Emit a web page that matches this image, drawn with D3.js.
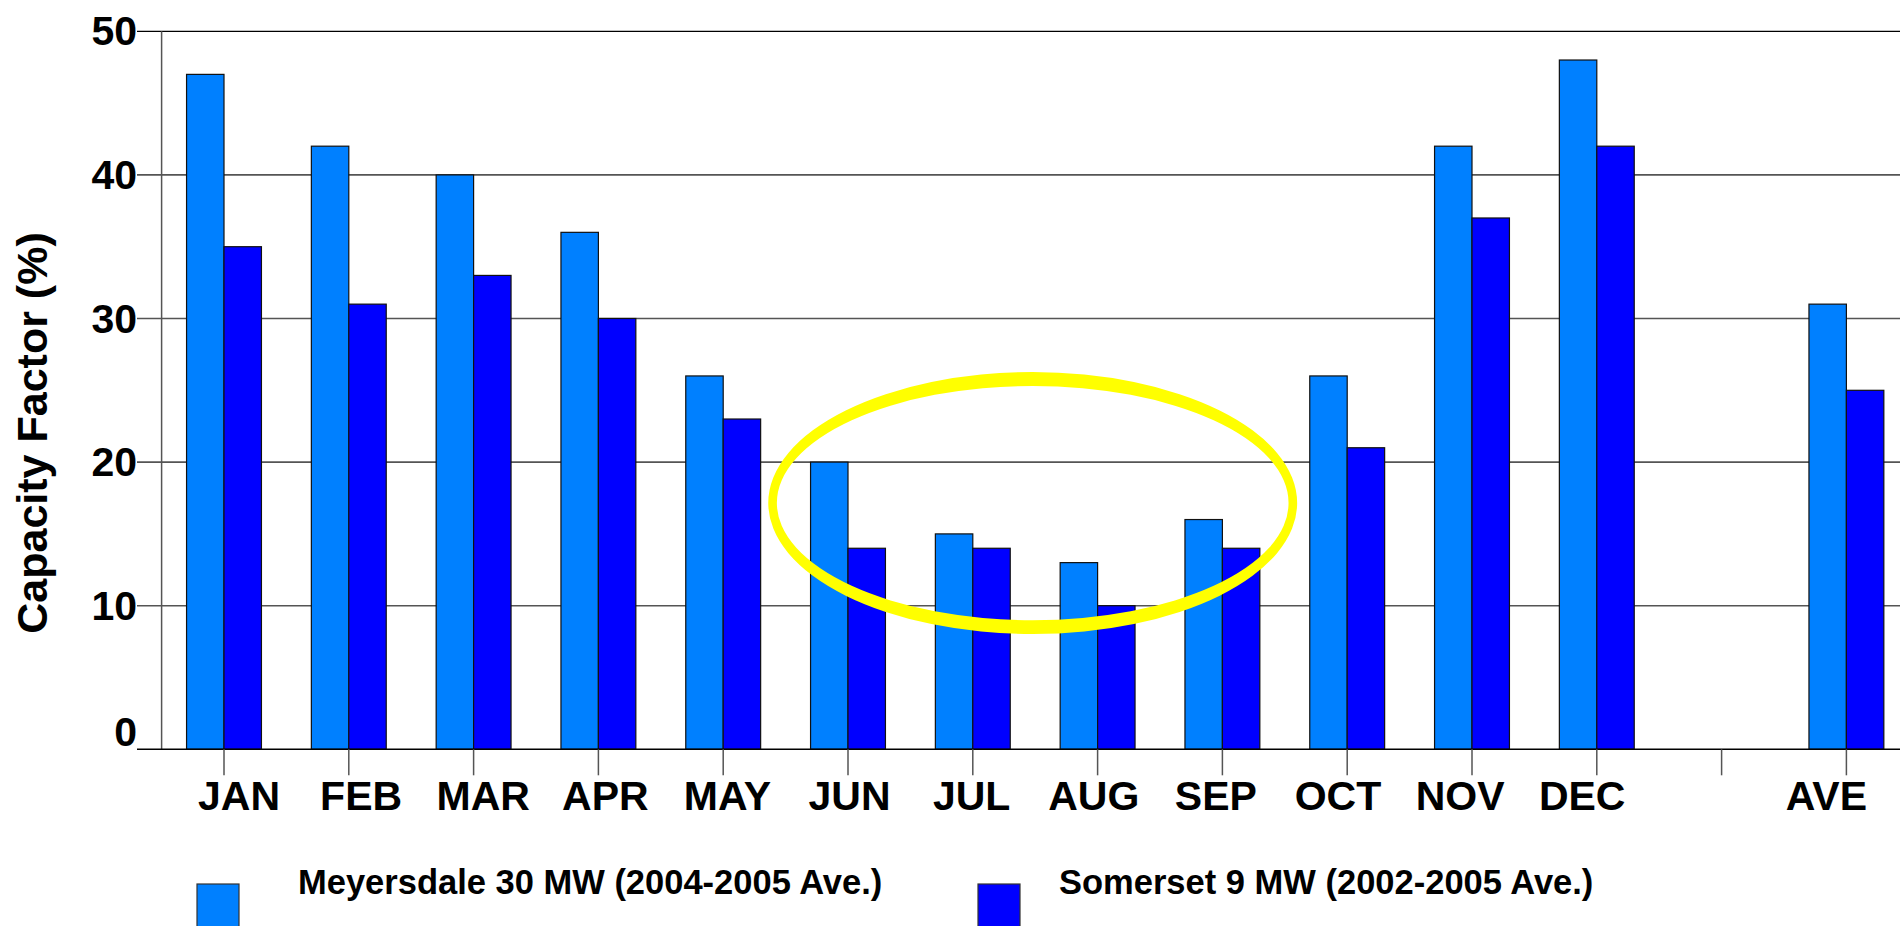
<!DOCTYPE html>
<html>
<head>
<meta charset="utf-8">
<script src="https://cdn.jsdelivr.net/npm/d3@7"></script>
<style>
html,body{margin:0;padding:0;background:#fff;overflow:hidden;}
svg{display:block;}
text{font-family:"Liberation Sans",Arial,sans-serif;font-weight:bold;fill:#000;}
</style>
</head>
<body>
<svg id="chart" width="1900" height="926"></svg>
<script>
// ---- data ----
const categories = ["JAN","FEB","MAR","APR","MAY","JUN","JUL","AUG","SEP","OCT","NOV","DEC","","AVE"];
const seriesNames = ["Meyersdale 30 MW (2004-2005 Ave.)","Somerset 9 MW (2002-2005 Ave.)"];
const meyersdale = [47,42,40,36,26,20,15,13,16,26,42,48,null,31];
const somerset   = [35,31,33,30,23,14,14,10,14,21,37,42,null,25];
const yTicks = [0,10,20,30,40,50];
const yTitle = "Capacity Factor (%)";
const colors = ["#0080FF","#0000FF"];

const svg = d3.select("#chart");
const W = 1900;
const plotLeft = 161.6, step = 124.8, yBottom = 749.3, yTop = 31.3;

const x0 = d3.scaleBand().domain(categories.map((c,i)=>i))
  .range([plotLeft, plotLeft + step*categories.length])
  .paddingInner(0.4).paddingOuter(0.2);
const x1 = d3.scaleBand().domain([0,1]).range([0, x0.bandwidth()]);
const y = d3.scaleLinear().domain([0,50]).range([yBottom, yTop]);
const xc = i => x0(i) + x0.bandwidth()/2;

// label positions (labels in the original sit on a slightly tighter grid)
const xl = d3.scalePoint().domain(categories.map((c,i)=>i))
  .range([xc(0)+15, xc(categories.length-1)-20]);

// gridlines
svg.append("g").selectAll("line").data(yTicks.filter(t=>t>0)).join("line")
  .attr("x1", 137).attr("x2", W)
  .attr("y1", d=>y(d)).attr("y2", d=>y(d))
  .attr("stroke", d=> d===50 ? "#000" : "#555")
  .attr("stroke-width", d=> d===50 ? 1.2 : 1.6);

// y axis line
svg.append("line").attr("x1", plotLeft).attr("x2", plotLeft)
  .attr("y1", y(50)).attr("y2", y(0)).attr("stroke","#555").attr("stroke-width",1.5);

// bars
const rows = categories.map((c,i)=>({i, vals:[meyersdale[i], somerset[i]]}));
const groups = svg.append("g").selectAll("g").data(rows).join("g")
  .attr("transform", d=>`translate(${x0(d.i)},0)`);
groups.selectAll("rect").data(d=>d.vals.map((v,k)=>({v,k})).filter(e=>e.v!=null)).join("rect")
  .attr("x", e=>x1(e.k)).attr("width", x1.bandwidth())
  .attr("y", e=>y(e.v)).attr("height", e=>y(0)-y(e.v))
  .attr("fill", e=>colors[e.k]).attr("stroke","#111").attr("stroke-width",1.2);

// x axis line
svg.append("line").attr("x1",137).attr("x2",W).attr("y1",y(0)).attr("y2",y(0))
  .attr("stroke","#000").attr("stroke-width",1.5);

// x ticks
const xAxis = d3.axisBottom(x0).tickSize(26).tickFormat("");
const gx = svg.append("g").attr("transform",`translate(0,${y(0)})`).call(xAxis);
gx.select(".domain").remove();
gx.selectAll(".tick line").attr("stroke","#555").attr("stroke-width",1.5);

// x labels
svg.append("g").selectAll("text").data(categories.map((c,i)=>({c,i}))).join("text")
  .attr("x", d=>xl(d.i)).attr("y", 810)
  .attr("text-anchor","middle").attr("font-size",41).text(d=>d.c);

// y labels
svg.append("g").selectAll("text").data(yTicks).join("text")
  .attr("x", 137).attr("y", d=> d===0 ? y(d)-3 : y(d)+14)
  .attr("text-anchor","end").attr("font-size",41).text(d=>d);

// y title
svg.append("text").attr("transform",`translate(47,433) rotate(-90)`)
  .attr("text-anchor","middle").attr("font-size",43).text(yTitle);

// annotation ellipse (ring) around summer months
const annCenterVal = 17.15, annFrac = 0.48;
const cx = xc(6) + (xc(7)-xc(6))*annFrac, cy = y(annCenterVal);
const rxO = 2.119*step, ryO = y(0)-y(9.12), rxI = 2.05*step, ryI = y(0)-y(8.15);
const ell = (rx,ry)=>`M${cx-rx},${cy}a${rx},${ry} 0 1,0 ${2*rx},0a${rx},${ry} 0 1,0 ${-2*rx},0Z`;
svg.append("path").attr("d", ell(rxO,ryO)+ell(rxI,ryI))
  .attr("fill","#FFFF00").attr("fill-rule","evenodd");

// legend
const legX = [197, 978], legTextX = [298, 1059];
const leg = svg.append("g").selectAll("g").data(seriesNames.map((n,k)=>({n,k}))).join("g");
leg.append("rect").attr("x",d=>legX[d.k]).attr("y",884).attr("width",42).attr("height",60)
  .attr("fill",d=>colors[d.k]).attr("stroke","#333").attr("stroke-width",1.2);
leg.append("text").attr("x",d=>legTextX[d.k]).attr("y",894).attr("font-size",34.5).text(d=>d.n);
</script>
</body>
</html>
